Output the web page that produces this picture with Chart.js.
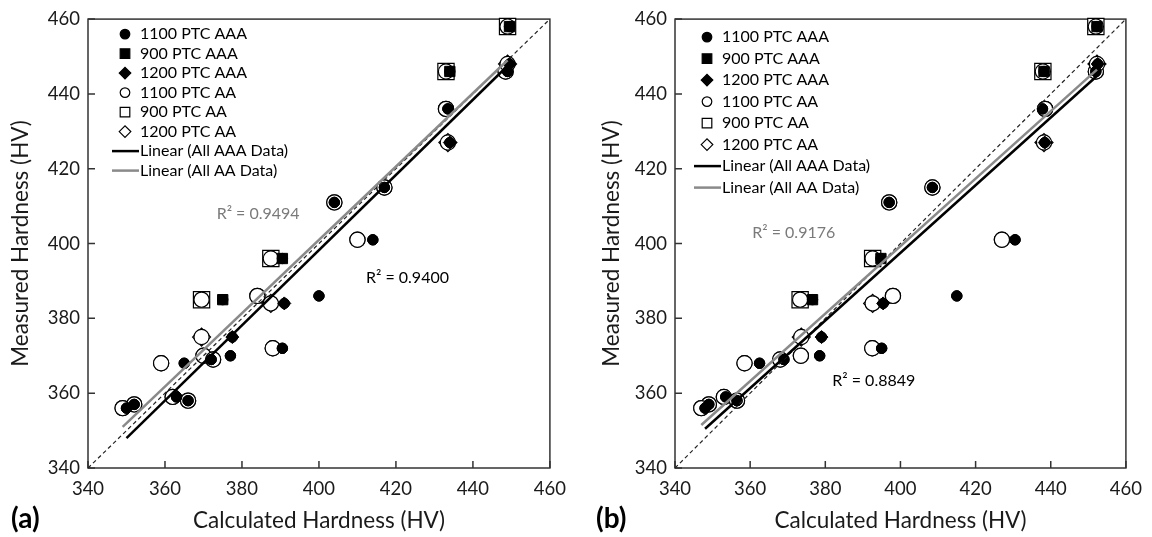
<!DOCTYPE html>
<html>
<head>
<meta charset="utf-8">
<script src="https://cdn.jsdelivr.net/npm/chart.js@4.4.0/dist/chart.umd.min.js"></script>
<style>
  body { margin: 0; background: #fff; width: 1152px; height: 537px; overflow: hidden; position: relative; font-family: Lato, sans-serif; }
  canvas { position: absolute; top: 0; }
  #chartA { left: 0; }
  #chartB { left: 576px; }
  .tag { position: absolute; top: 501px; font-weight: bold; font-size: 28px; line-height: 32px; color: #000; }
</style>
</head>
<body>
<canvas id="chartA" width="576" height="537"></canvas>
<canvas id="chartB" width="576" height="537"></canvas>
<div class="tag" style="left:11px">(a)</div>
<div class="tag" style="left:596px">(b)</div>
<script>
// Measured hardness (HV), shared by both panels
var measured1100 = [446, 436, 415, 411, 401, 386, 372, 370, 369, 368, 359, 358, 357, 356];
var measured900 = [458, 446, 396, 385];
var measured1200 = [448, 427, 384, 375];

// Calculated hardness, panel (a)
var calcA1100AAA = [449, 433.5, 417, 404, 414, 400, 390.5, 377, 372, 365, 363, 366, 352, 350];
var calcA1100AA = [448.5, 433, 417, 404, 410, 384, 388, 370, 372.5, 359, 362, 366, 352, 349];
var calcA900AAA = [449.5, 434, 390.5, 375];
var calcA900AA = [449, 433, 387.5, 369.5];
var calcA1200AAA = [449.5, 434, 391, 377.5];
var calcA1200AA = [449, 433.5, 387.5, 369.5];

// Calculated hardness, panel (b)
var calcB1100AAA = [452, 437.8, 408.5, 397, 430.5, 415, 395, 378.5, 369, 362.5, 353.5, 356.5, 349, 348];
var calcB1100AA = [452, 438.5, 408.5, 397, 427, 398, 392.5, 373.5, 368, 358.5, 353, 356.5, 349, 347];
var calcB900AAA = [452.3, 438.2, 394.8, 376.6];
var calcB900AA = [452, 437.9, 392.6, 373.3];
var calcB1200AAA = [452.5, 438.4, 395.4, 379];
var calcB1200AA = [452.3, 438.2, 392.6, 373.6];

// Linear trend lines, end points (x values, y values)
var trendA_AAA_x = [350, 449.5], trendA_AAA_y = [348, 448];
var trendA_AA_x = [349, 449], trendA_AA_y = [351, 449];
var trendB_AAA_x = [348, 452.5], trendB_AAA_y = [350.5, 445];
var trendB_AA_x = [347, 452.3], trendB_AA_y = [351.5, 446.5];

// 1:1 reference line
var unityLine = [340, 460];

// R² of the fits
var r2A = ["R² = 0.9400", "R² = 0.9494"];
var r2B = ["R² = 0.8849", "R² = 0.9176"];

var xTicks = [340, 360, 380, 400, 420, 440, 460];

Chart.defaults.font.family = "Lato";
Chart.defaults.color = "#1a1a1a";

function pts(xs, ys) {
  return xs.map(function (v, i) { return { x: v, y: ys[i] }; });
}

// cornice e tacche verso l'interno
var boxAndTicks = {
  id: "boxAndTicks",
  beforeDatasetsDraw: function (chart) {
    var ctx = chart.ctx, a = chart.chartArea, x = chart.scales.x, y = chart.scales.y;
    ctx.save();
    ctx.strokeStyle = "#333";
    ctx.lineWidth = 1.5;
    ctx.strokeRect(a.left, a.top, a.right - a.left, a.bottom - a.top);
    ctx.beginPath();
    x.ticks.forEach(function (t) {
      var px = x.getPixelForValue(t.value);
      ctx.moveTo(px, a.bottom);
      ctx.lineTo(px, a.bottom - 7);
    });
    y.ticks.forEach(function (t) {
      var py = y.getPixelForValue(t.value);
      ctx.moveTo(a.left, py);
      ctx.lineTo(a.left + 7, py);
    });
    ctx.stroke();
    ctx.restore();
  }
};

function drawMarker(ctx, style, filled, x, y, r) {
  ctx.beginPath();
  if (style === "circle") {
    ctx.arc(x, y, r, 0, Math.PI * 2);
  } else if (style === "rect") {
    ctx.rect(x - r, y - r, 2 * r, 2 * r);
  } else {
    ctx.moveTo(x - r, y);
    ctx.lineTo(x, y - r);
    ctx.lineTo(x + r, y);
    ctx.lineTo(x, y + r);
    ctx.closePath();
  }
  ctx.fillStyle = filled ? "#000" : "#fff";
  ctx.fill();
  ctx.lineWidth = 1.2;
  ctx.strokeStyle = "#000";
  ctx.stroke();
}

// legenda dentro l'area del grafico, in alto a sinistra
var insideLegend = {
  id: "insideLegend",
  afterDraw: function (chart, args, opts) {
    var ctx = chart.ctx, a = chart.chartArea;
    var items = chart.data.datasets.filter(function (d) { return d.inLegend; });
    ctx.save();
    ctx.font = "16px Lato";
    ctx.textBaseline = "middle";
    items.forEach(function (d, i) {
      var yy = a.top + opts.top + i * opts.row;
      var mx = a.left + opts.marker;
      if (d.showLine) {
        ctx.strokeStyle = d.borderColor;
        ctx.lineWidth = 2.5;
        ctx.beginPath();
        ctx.moveTo(mx - 13, yy);
        ctx.lineTo(mx + 14, yy);
        ctx.stroke();
      } else {
        var r = d.pointStyle === "circle" ? 4.8 : (d.pointStyle === "rect" ? 4.8 : 5.8);
        drawMarker(ctx, d.pointStyle, d.backgroundColor === "#000", mx, yy, r);
      }
      ctx.fillStyle = "#000";
      ctx.fillText(d.label, a.left + opts.text, yy);
    });
    ctx.restore();
  }
};

var r2Labels = {
  id: "r2Labels",
  afterDatasetsDraw: function (chart, args, opts) {
    var ctx = chart.ctx, x = chart.scales.x, y = chart.scales.y;
    ctx.save();
    ctx.font = "16px Lato";
    ctx.textAlign = "center";
    ctx.textBaseline = "middle";
    opts.items.forEach(function (it) {
      ctx.fillStyle = it.color;
      ctx.fillText(it.text, x.getPixelForValue(it.at[0]), y.getPixelForValue(it.at[1]));
    });
    ctx.restore();
  }
};

function buildDatasets(c) {
  var filled = { backgroundColor: "#000", borderColor: "#000", borderWidth: 1, clip: false };
  var open = { backgroundColor: "#fff", borderColor: "#000", borderWidth: 1.2, clip: false };
  return [
    Object.assign({ label: "1100 PTC AAA", data: pts(c.aaa1100, measured1100), pointStyle: "circle", pointRadius: 5.2, inLegend: true, order: 1 }, filled),
    Object.assign({ label: "900 PTC AAA", data: pts(c.aaa900, measured900), pointStyle: "rect", pointRadius: 7.3, inLegend: true, order: 1 }, filled),
    Object.assign({ label: "1200 PTC AAA", data: pts(c.aaa1200, measured1200), pointStyle: "rectRot", pointRadius: 6.5, inLegend: true, order: 1 }, filled),
    Object.assign({ label: "1100 PTC AA", data: pts(c.aa1100, measured1100), pointStyle: "circle", pointRadius: 7.6, inLegend: true, order: 4 }, open),
    Object.assign({ label: "900 PTC AA", data: pts(c.aa900, measured900), pointStyle: "rect", pointRadius: 11.5, inLegend: true, order: 5 }, open),
    Object.assign({ label: "1200 PTC AA", data: pts(c.aa1200, measured1200), pointStyle: "rectRot", pointRadius: 9, inLegend: true, order: 5 }, open),
    {
      label: "Linear (All AAA Data)", data: pts(c.tAAAx, c.tAAAy), showLine: true, pointRadius: 0,
      borderColor: "#000", borderWidth: 2.5, inLegend: true, order: 0
    },
    {
      label: "Linear (All AA Data)", data: pts(c.tAAx, c.tAAy), showLine: true, pointRadius: 0,
      borderColor: "#8a8a8a", borderWidth: 2.5, inLegend: true, order: 0
    },
    // serie complessive usate per le rette di tendenza
    Object.assign({
      label: "All AAA Data",
      data: pts(c.aaa1100.concat(c.aaa900, c.aaa1200), measured1100.concat(measured900, measured1200)),
      pointStyle: "circle", pointRadius: 5.2, order: 2
    }, filled),
    Object.assign({
      label: "All AA Data",
      data: pts(c.aa1100.concat(c.aa900, c.aa1200), measured1100.concat(measured900, measured1200)),
      pointStyle: "circle", pointRadius: 7.6, order: 3
    }, open),
    {
      label: "1:1", data: pts(unityLine, unityLine), showLine: true, pointRadius: 0,
      borderColor: "#222", borderWidth: 1.2, borderDash: [4, 3], order: 0
    }
  ];
}

function buildChart(id, c) {
  return new Chart(id, {
    type: "scatter",
    data: { datasets: buildDatasets(c) },
    plugins: [boxAndTicks, insideLegend, r2Labels],
    options: {
      responsive: false,
      animation: false,
      layout: { padding: { left: 0, top: 16, right: c.padRight, bottom: 0 } },
      plugins: {
        legend: { display: false },
        tooltip: { enabled: false },
        insideLegend: c.legend,
        r2Labels: { items: c.r2 }
      },
      scales: {
        x: {
          type: "linear", min: 340, max: 460,
          afterBuildTicks: function (s) { s.ticks = xTicks.map(function (v) { return { value: v }; }); },
          ticks: { padding: 10, color: "#1a1a1a", font: { size: 18.5 } },
          grid: { display: false, drawTicks: false },
          border: { display: false },
          title: { display: true, text: "Calculated Hardness (HV)", color: "#1a1a1a", font: { size: 22.5 }, padding: { top: 0, bottom: 3 } },
          afterFit: function (s) { s.height = 69; }
        },
        y: {
          type: "linear", min: 340, max: 460,
          ticks: { stepSize: 20, padding: 8, color: "#1a1a1a", font: { size: 18.5 } },
          grid: { display: false, drawTicks: false },
          border: { display: false },
          title: { display: true, text: "Measured Hardness (HV)", color: "#1a1a1a", font: { size: 22.5 }, padding: { top: c.yTitlePad, bottom: 0 } },
          afterFit: function (s) { s.width = c.yWidth; }
        }
      }
    }
  });
}

buildChart("chartA", {
  aaa1100: calcA1100AAA, aa1100: calcA1100AA,
  aaa900: calcA900AAA, aa900: calcA900AA,
  aaa1200: calcA1200AAA, aa1200: calcA1200AA,
  tAAAx: trendA_AAA_x, tAAAy: trendA_AAA_y, tAAx: trendA_AA_x, tAAy: trendA_AA_y,
  padRight: 26, yWidth: 88, yTitlePad: 7,
  legend: { top: 15, row: 19.5, marker: 37, text: 52 },
  r2: [
    { text: r2A[0], at: [423, 390.7], color: "#000" },
    { text: r2A[1], at: [384.2, 408], color: "#7a7a7a" }
  ]
});

buildChart("chartB", {
  aaa1100: calcB1100AAA, aa1100: calcB1100AA,
  aaa900: calcB900AAA, aa900: calcB900AA,
  aaa1200: calcB1200AAA, aa1200: calcB1200AA,
  tAAAx: trendB_AAA_x, tAAAy: trendB_AAA_y, tAAx: trendB_AA_x, tAAy: trendB_AA_y,
  padRight: 21, yWidth: 99, yTitlePad: 22,
  legend: { top: 18, row: 21.5, marker: 32, text: 47 },
  r2: [
    { text: r2B[0], at: [392.9, 363.4], color: "#000" },
    { text: r2B[1], at: [371.6, 402.9], color: "#7a7a7a" }
  ]
});
</script>
</body>
</html>
